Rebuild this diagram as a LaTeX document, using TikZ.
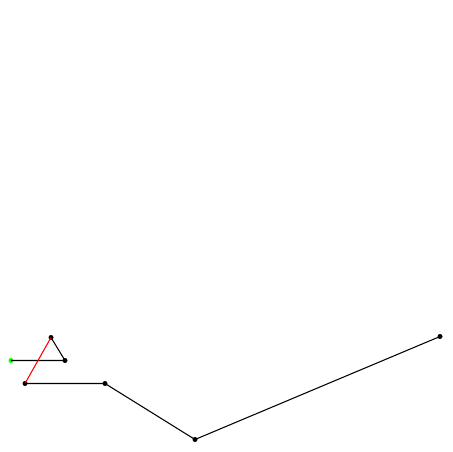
\documentclass[tikz,border=0pt]{standalone}
\begin{document}
\begin{tikzpicture}[x=0.02cm,y=-0.02cm,
  dot/.style={circle,fill=black,inner sep=0pt,minimum size=5*0.02cm},
  gdot/.style={circle,fill=green,inner sep=0pt,minimum size=5*0.02cm},
  seg/.style={line width=0.6pt,black},
  rseg/.style={line width=0.6pt,red}]
\useasboundingbox (0,0) rectangle (452,452);
\node[gdot] (p0) at (11,360.5) {};
\node[dot] (p1) at (65,360.5) {};
\node[dot] (p2) at (51,337.5) {};
\node[dot] (p3) at (25,383.5) {};
\node[dot] (p4) at (105,383.5) {};
\node[dot] (p5) at (195,439.5) {};
\node[dot] (p6) at (440,336.5) {};
\draw[seg] (p0.center) -- (p1.center) -- (p2.center);
\draw[rseg] (p2.center) -- (p3.center);
\draw[seg] (p3.center) -- (p4.center) -- (p5.center) -- (p6.center);
\end{tikzpicture}
\end{document}
